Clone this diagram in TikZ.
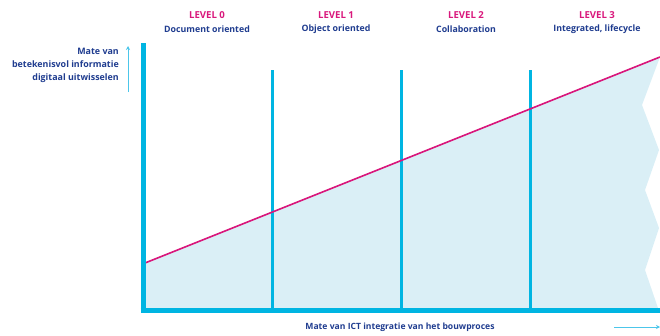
\documentclass[tikz,border=0pt]{standalone}
\usepackage{fontspec}
\setmainfont{Open Sans}
\definecolor{axisblue}{HTML}{00B5E2}
\definecolor{fillblue}{HTML}{DAEFF6}
\definecolor{magline}{HTML}{D9187C}
\definecolor{textblue}{HTML}{1F3C8F}
\definecolor{arrowblue}{HTML}{4CC6EA}
\tikzset{
  lvl/.style={text=magline, font=\fontsize{9.6}{11}\selectfont\bfseries, inner sep=0pt},
  lvldesc/.style={text=textblue, font=\fontsize{8.8}{11}\selectfont\bfseries, inner sep=0pt},
  ylabelstyle/.style={text=textblue, font=\fontsize{8.9}{13}\selectfont\bfseries, inner sep=0pt},
  xlabelstyle/.style={text=textblue, font=\fontsize{8.6}{11}\selectfont\bfseries, inner sep=0pt},
  divider/.style={draw=axisblue, line width=3pt},
  mainaxis/.style={draw=axisblue, line width=5pt},
  smallarrow/.style={draw=arrowblue, line width=1pt, -{Stealth[length=4pt,width=4pt]}}
}
\usetikzlibrary{arrows.meta}
\begin{document}
\begin{tikzpicture}[x=1pt,y=-1pt]
\useasboundingbox (0,0) rectangle (660,335);
% fill area
\fill[fillblue] (145,263) -- (660,57) -- (642,105) -- (659,150) -- (645,190) -- (659,228) -- (645,270) -- (658,308) -- (145,308) -- cycle;
% coordinates
\coordinate (ytop) at (143,43);
\coordinate (origin) at (143,310);
\coordinate (xend) at (660,310);
\coordinate (d1t) at (272,70); \coordinate (d1b) at (272,308);
\coordinate (d2t) at (401,70); \coordinate (d2b) at (401,308);
\coordinate (d3t) at (530,70); \coordinate (d3b) at (530,308);
\coordinate (ls) at (145,263);
\coordinate (le) at (660,57);
% dividers
\draw[divider] (d1t) -- (d1b);
\draw[divider] (d2t) -- (d2b);
\draw[divider] (d3t) -- (d3b);
% magenta line
\draw[magline, line width=1.6pt] (ls) -- (le);
% axes
\draw[mainaxis] (ytop) -- ([yshift=2.5pt]origin);
\draw[mainaxis] ([xshift=-2.5pt]origin) -- (xend);
% level labels
\node[lvl] (l0) at (207,15) {LEVEL 0};
\node[lvldesc] (d0) at (207,29) {Document oriented};
\node[lvl] (l1) at (336,15) {LEVEL 1};
\node[lvldesc] (d1) at (336,29) {Object oriented};
\node[lvl] (l2) at (466,15) {LEVEL 2};
\node[lvldesc] (d2) at (466,29) {Collaboration};
\node[lvl] (l3) at (597,15) {LEVEL 3};
\node[lvldesc] (d3) at (597,29) {Integrated, lifecycle};
% y-axis label
\node[ylabelstyle, anchor=north east, align=right] (ylab) at (119,48) {Mate van\\betekenisvol informatie\\digitaal uitwisselen};
\coordinate (ya1) at (128,92);
\coordinate (ya2) at (128,46);
\draw[smallarrow] (ya1) -- (ya2);
% x-axis label
\node[xlabelstyle] (xlab) at (400,327) {Mate van ICT integratie van het bouwproces};
\coordinate (xa1) at (614,327);
\coordinate (xa2) at (660,327);
\draw[smallarrow] (xa1) -- (xa2);
\end{tikzpicture}
\end{document}
